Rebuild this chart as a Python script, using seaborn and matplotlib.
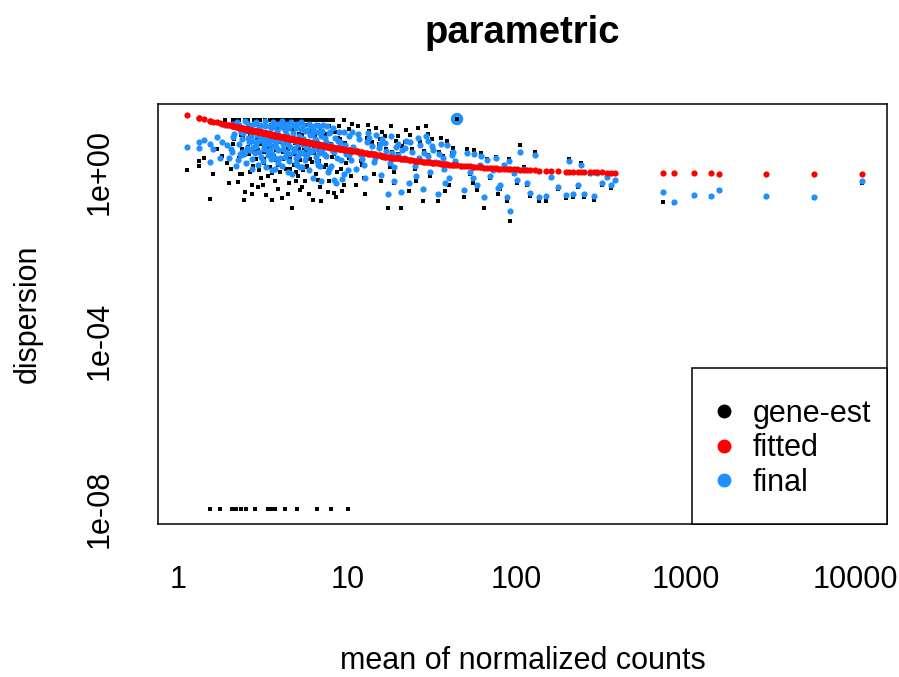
import matplotlib
matplotlib.use("Agg")
import matplotlib.pyplot as plt
from matplotlib.lines import Line2D
from matplotlib.patches import Rectangle
from matplotlib.ticker import NullLocator, FixedLocator, FixedFormatter
import numpy as np
import pandas as pd
import seaborn as sns

# ---------------- data ----------------
# one entry per gene; rows grouped by ranges of the mean of normalized counts
base_mean = [
    1.13, 1.33, 1.33, 1.55, 1.55,
    1.82, 1.77, 1.9, 2.0, 2.08, 2.1, 2.15, 2.2, 2.05, 2.25, 2.22,
    2.3, 2.36, 2.4, 2.45, 2.5, 2.52, 2.55, 2.6, 2.65, 2.7, 2.75, 2.8, 2.85, 2.9, 2.95, 3.0, 2.35, 2.62, 2.78, 2.4, 2.98, 2.48, 2.68, 2.88, 2.32, 2.72, 2.58,
    3.05, 3.1, 3.15, 3.2, 3.25, 3.3, 3.35, 3.4, 3.45, 3.5, 3.54, 3.6, 3.65, 3.7, 3.74, 3.8, 3.85, 3.9, 3.95, 3.2, 3.55, 3.75, 3.1, 3.08, 3.28, 3.48, 3.62, 3.88, 3.18, 3.58, 3.98, 3.38,
    4.05, 4.1, 4.15, 4.2, 4.28, 4.35, 4.4, 4.5, 4.55, 4.6, 4.7, 4.75, 4.85, 4.9, 5.0, 5.04, 5.1, 5.2, 5.25, 4.3, 4.65, 5.15, 4.12, 4.38, 4.62, 4.82, 5.07, 4.45, 4.95, 4.25,
    5.35, 5.45, 5.55, 5.65, 5.75, 5.85, 5.95, 6.05, 6.15, 6.25, 6.35, 6.5, 6.6, 6.7, 6.8, 6.9, 5.6, 6.4, 5.3, 5.5, 5.9, 6.1, 6.55, 6.85, 5.4, 5.8, 6.3, 6.75, 5.7, 6.45,
    7.1, 7.3, 7.5, 7.7, 7.9, 8.0, 8.1, 8.3, 8.5, 8.7, 8.9, 9.1, 9.3, 9.5, 9.8, 10.1, 10.3, 10.5, 7.4, 9.0, 7.2, 7.6, 8.2, 7.0, 7.8, 8.6, 9.6, 7.05,
    10.8, 11.2, 11.6, 12.0, 12.5, 13.0, 13.3, 13.8, 14.3, 14.8, 15.3, 15.8, 16.3, 16.8, 17.3, 17.8, 18.3, 18.8, 19.4, 11.8, 12.8, 14.0, 16.0, 19.0,
    20, 20.8, 21.5, 22.3, 23.0, 24, 25, 26, 27, 28, 29, 30, 31, 32, 33, 34.5, 36, 37.5, 39, 40, 41.5, 43, 44.5, 22, 25.5, 30, 35, 38,
    47, 49, 51, 53, 56, 58, 61, 64, 67, 70, 73, 76, 80, 84, 88, 92, 96, 101, 104, 55, 62, 78, 90,
    110, 115, 120, 128, 135, 150, 160, 175, 195, 205, 215, 230, 240, 250, 270, 285, 300, 320, 340, 360, 380,
    733, 850, 1117, 1406, 1568, 2970, 5710, 10965,
    2.12, 2.28, 2.42, 2.56, 2.66, 2.82, 2.92, 3.02, 3.12, 3.22, 3.32, 3.42, 3.52, 3.68, 3.78, 3.92,
    4.02, 4.18, 4.32, 4.48, 4.58, 4.72, 4.88, 4.98, 5.12, 5.28, 5.42, 5.58, 5.72, 5.88, 6.02, 6.2,
    6.38, 6.6, 6.8, 7.0, 7.25, 7.5, 7.75, 8.0, 8.4, 8.8, 9.2, 9.7, 10.2, 10.6, 11.4, 12.2,
    13.5, 14.6, 15.6, 17.0, 18.0, 19.8, 21.0, 23.5, 26.5, 28.5, 31.5, 36.5, 42, 1.42, 1.62, 1.7, 1.95,
]

disp_gene_est = [
    1.1, 1.8, 1.4, 0.23, 1e-8,
    2.4, 1e-8, 17, 0.55, 1e-8, 17, 6.0, 1e-8, 1.2, 0.58, 17,
    17, 1e-8, 3.5, 0.22, 0.33, 1e-8, 9.0, 17, 1.0, 5.0, 0.5, 17, 1e-8, 2.0, 0.45, 12, 7.5, 2.6, 1.4, 0.9, 3.3, 17, 13, 17, 0.9, 0.3, 4.0,
    17, 0.7, 5.5, 1.6, 17, 0.28, 8.0, 1e-8, 2.6, 17, 1e-8, 0.95, 4.2, 17, 1e-8, 1.9, 11, 0.4, 6.0, 2.9, 13, 0.6, 4.5, 9.0, 17, 1.3, 17, 17, 0.5, 0.22, 1.0, 3.8,
    17, 0.24, 3.0, 17, 1e-8, 1.2, 7.0, 0.55, 17, 2.2, 0.14, 10, 1.5, 4.8, 17, 1e-8, 0.8, 3.5, 0.37, 14, 5.5, 8.0, 17, 17, 17, 17, 17, 0.3, 0.6, 4.5,
    17, 1.1, 6.0, 0.6, 17, 2.5, 0.3, 9.0, 1.7, 17, 4.0, 0.9, 1e-8, 13, 2.9, 0.45, 13, 17, 17, 17, 17, 17, 17, 17, 0.45, 1.4, 0.22, 0.65, 3.2, 7.0,
    17, 1.3, 5.5, 0.33, 17, 1e-8, 2.3, 0.32, 9.0, 1.0, 12, 3.5, 0.35, 17, 1.6, 1e-8, 10.5, 0.8, 8.0, 6.0, 17, 17, 17, 0.2, 0.6, 0.25, 0.5, 3.0,
    4.0, 0.5, 12, 1.8, 0.7, 6.5, 13, 2.5, 0.9, 11, 4.5, 0.6, 2.1, 7.0, 0.14, 1.3, 3.0, 0.55, 5.5, 8.0, 0.3, 5.0, 9.0, 1.0,
    7.0, 0.14, 2.0, 10, 0.35, 3.5, 1.2, 11, 5.0, 0.2, 12, 2.5, 0.8, 4.0, 1.6, 0.2, 6.5, 1.1, 5.5, 0.5, 2.8, 1.8, 18, 5.0, 0.6, 8.0, 3.0, 0.35,
    1.3, 0.26, 3.5, 0.9, 3.3, 0.37, 1.5, 0.14, 2.0, 0.7, 1.1, 2.3, 0.4, 1.5, 0.2, 0.07, 0.9, 0.55, 4.3, 0.55, 2.8, 0.3, 2.0,
    1.3, 0.5, 0.27, 3.0, 0.2, 0.2, 0.7, 0.4, 0.24, 2.0, 0.26, 0.45, 1.6, 0.25, 0.9, 0.22, 0.95, 0.5, 0.7, 0.42, 0.6,
    0.19, 0.18, 0.27, 0.25, 0.37, 0.26, 0.24, 0.56,
    4.5, 2.2, 6.5, 1.6, 8.0, 3.0, 5.8, 1.1, 7.0, 2.0, 4.8, 0.8, 6.5, 2.4, 3.4, 1.5,
    5.0, 2.0, 9.0, 3.6, 1.2, 6.2, 2.6, 1.0, 4.2, 1.9, 7.5, 3.8, 1.3, 5.0, 2.0, 11,
    2.8, 5.5, 1.8, 9.5, 3.8, 1.5, 12, 4.5, 2.6, 6.5, 1.2, 4.8, 2.2, 14, 3.2, 1.5,
    9.5, 2.0, 6.0, 3.6, 12, 2.6, 4.2, 7.5, 2.2, 3.2, 6.0, 2.4, 3.8, 2.2, 0.9, 3.5, 1.6,
]

disp_final = [
    4.0, 5.0, 3.8, 4.6, 1.7,
    5.0, 2.2, 13, 2.2, 3.0, 14, 8.0, 1.4, 3.5, 1.9, 15,
    13, 2.5, 6.0, 2.6, 3.0, 1.6, 10, 14, 3.3, 7.0, 2.0, 13.5, 2.8, 4.2, 1.5, 11, 9.0, 5.2, 3.9, 2.9, 5.5, 16, 12, 15, 2.6, 1.2, 6.5,
    13, 2.3, 6.8, 3.6, 12.5, 1.3, 8.5, 3.1, 4.5, 12, 2.0, 2.7, 5.8, 12, 1.2, 3.9, 9.5, 1.6, 6.5, 4.8, 11, 2.2, 6.2, 9.0, 16, 3.3, 15, 14, 1.8, 1.1, 2.2, 5.5,
    11.5, 1.4, 4.6, 12, 2.3, 3.0, 7.0, 1.8, 11, 3.9, 0.9, 8.5, 3.2, 5.5, 11, 1.5, 2.4, 4.6, 1.3, 10, 6.0, 7.2, 16, 14, 15, 13, 14, 1.0, 1.6, 5.4,
    10.5, 2.8, 5.8, 1.9, 10, 3.8, 1.1, 7.5, 3.2, 10, 4.5, 2.3, 1.8, 9.0, 3.8, 1.4, 9.5, 9.5, 15, 13, 14, 12, 13, 12, 1.3, 2.6, 0.7, 1.5, 4.0, 6.0,
    9.5, 2.7, 5.0, 1.0, 9.0, 1.4, 3.3, 0.65, 6.5, 2.2, 9.0, 3.9, 0.68, 9.0, 2.6, 1.1, 7.0, 1.9, 6.5, 5.2, 13, 12, 11, 0.6, 1.2, 0.55, 0.9, 3.6,
    4.0, 1.2, 8.0, 2.5, 1.5, 5.0, 8.5, 2.8, 1.7, 7.5, 3.8, 0.85, 2.3, 4.8, 0.3, 1.6, 2.8, 0.62, 4.0, 6.0, 0.7, 4.2, 6.0, 1.3,
    4.5, 0.33, 2.1, 5.5, 0.55, 3.0, 1.4, 6.5, 4.3, 0.4, 7.0, 2.4, 1.0, 3.3, 1.7, 0.3, 4.5, 1.2, 4.3, 0.7, 2.5, 1.8, 18, 3.8, 0.8, 5.5, 2.7, 0.55,
    1.35, 0.37, 2.8, 1.0, 2.7, 0.48, 1.5, 0.25, 1.9, 0.8, 1.1, 2.1, 0.5, 1.45, 0.26, 0.12, 0.95, 0.65, 3.0, 0.7, 2.4, 0.42, 1.8,
    1.2, 0.55, 0.32, 2.5, 0.25, 0.27, 0.75, 0.45, 0.29, 1.8, 0.3, 0.5, 1.5, 0.3, 0.95, 0.27, 0.95, 0.55, 0.75, 0.5, 0.65,
    0.33, 0.19, 0.28, 0.27, 0.38, 0.27, 0.25, 0.6,
    6.8, 4.6, 8.2, 3.8, 9.2, 5.4, 7.4, 3.0, 7.8, 4.0, 6.0, 2.5, 7.0, 4.2, 5.0, 3.4,
    5.8, 3.6, 8.0, 4.6, 2.6, 6.0, 3.7, 2.2, 4.8, 3.0, 6.4, 4.4, 2.4, 5.0, 3.0, 8.0,
    3.6, 5.2, 2.8, 7.0, 4.0, 2.4, 8.5, 4.4, 3.0, 5.5, 1.9, 4.3, 2.5, 9.0, 3.2, 2.0,
    6.5, 2.2, 4.5, 3.2, 7.0, 2.5, 3.4, 5.0, 2.1, 2.8, 4.2, 2.2, 3.0, 5.6, 3.6, 6.8, 4.4,
]

disp_fitted = [
    22, 19, 19, 16.4, 16.4,
    14, 14.5, 13.6, 12.9, 12.6, 12.5, 12.2, 11.8, 12.8, 11.6, 11.7,
    11.3, 11.1, 10.9, 10.7, 10.5, 10.4, 10.3, 10.1, 10, 9.8, 9.6, 9.5, 9.4, 9.2, 9.1, 8.9, 11.2, 10.1, 9.6, 10.9, 9.0, 10.6, 9.9, 9.3, 11.2, 9.7, 10.2,
    8.8, 8.7, 8.6, 8.4, 8.3, 8.2, 8.1, 8.0, 7.9, 7.8, 7.7, 7.6, 7.5, 7.4, 7.3, 7.2, 7.2, 7.1, 7.0, 8.4, 7.7, 7.3, 8.7, 8.8, 8.2, 7.8, 7.5, 7.1, 8.5, 7.6, 7.0, 8.1,
    6.9, 6.8, 6.8, 6.7, 6.6, 6.5, 6.4, 6.3, 6.2, 6.1, 6.0, 6.0, 5.9, 5.8, 5.7, 5.7, 5.6, 5.5, 5.5, 6.5, 6.1, 5.6, 6.8, 6.5, 6.1, 5.9, 5.6, 6.4, 5.8, 6.6,
    5.4, 5.3, 5.2, 5.1, 5.1, 5.0, 4.9, 4.9, 4.8, 4.7, 4.7, 4.6, 4.5, 4.4, 4.4, 4.3, 5.2, 4.6, 5.4, 5.2, 5.0, 4.8, 4.5, 4.4, 5.3, 5.0, 4.7, 4.4, 5.1, 4.6,
    4.3, 4.2, 4.1, 4.0, 4.0, 3.9, 3.9, 3.8, 3.7, 3.7, 3.6, 3.6, 3.5, 3.5, 3.4, 3.3, 3.3, 3.2, 4.1, 3.6, 4.2, 4.0, 3.8, 4.3, 4.0, 3.7, 3.4, 4.3,
    3.2, 3.1, 3.0, 2.9, 2.8, 2.8, 2.7, 2.7, 2.6, 2.5, 2.5, 2.4, 2.4, 2.3, 2.3, 2.3, 2.2, 2.2, 2.1, 3.0, 2.8, 2.6, 2.4, 2.2,
    2.1, 2.05, 2.02, 1.98, 1.95, 1.9, 1.86, 1.83, 1.79, 1.76, 1.73, 1.70, 1.68, 1.66, 1.63, 1.60, 1.57, 1.55, 1.52, 1.50, 1.48, 1.46, 1.44, 1.99, 1.85, 1.70, 1.59, 1.54,
    1.41, 1.39, 1.37, 1.35, 1.33, 1.31, 1.29, 1.27, 1.25, 1.23, 1.22, 1.21, 1.2, 1.19, 1.18, 1.17, 1.16, 1.15, 1.14, 1.33, 1.28, 1.2, 1.17,
    1.12, 1.11, 1.1, 1.09, 1.08, 1.06, 1.05, 1.04, 1.02, 1.01, 1.01, 1.0, 1.0, 1.0, 0.99, 0.99, 0.98, 0.98, 0.97, 0.97, 0.97,
    0.93, 0.93, 0.92, 0.92, 0.91, 0.91, 0.90, 0.90,
    12.3, 11.4, 10.8, 10.2, 9.9, 9.4, 9.2, 8.9, 8.7, 8.4, 8.2, 8.0, 7.8, 7.4, 7.3, 7.1,
    6.9, 6.7, 6.5, 6.3, 6.2, 6.0, 5.8, 5.8, 5.6, 5.4, 5.3, 5.2, 5.1, 5.0, 4.9, 4.8,
    4.6, 4.5, 4.4, 4.3, 4.2, 4.1, 4.0, 3.9, 3.8, 3.7, 3.6, 3.4, 3.3, 3.2, 3.1, 2.9,
    2.7, 2.6, 2.5, 2.3, 2.2, 2.1, 2.04, 1.92, 1.8, 1.75, 1.67, 1.56, 1.47, 17.6, 15.7, 15.0, 13.3,
]

x_ticks = [1, 10, 100, 1000, 10000]
x_tick_labels = ["1", "10", "100", "1000", "10000"]
y_ticks = [1e0, 1e-2, 1e-4, 1e-6, 1e-8]
y_tick_labels = ["1e+00", "", "1e-04", "", "1e-08"]
legend_labels = ["gene-est", "fitted", "final"]
colors = {"gene-est": "black", "fitted": "#FF0000", "final": "#1E90FF"}

assert len(base_mean) == len(disp_gene_est) == len(disp_final) == len(disp_fitted)

df = pd.DataFrame({
    "base_mean": base_mean,
    "gene_est": disp_gene_est,
    "final": disp_final,
    "fitted": disp_fitted,
})
outl = df[(df["final"] == df["gene_est"]) & (df["gene_est"] > 5 * df["fitted"])]

# ---------------- style ----------------
sns.set_style("white")
plt.rcParams["font.family"] = ["Liberation Sans", "DejaVu Sans"]
plt.rcParams["axes.edgecolor"] = "black"
plt.rcParams["text.color"] = "black"
plt.rcParams["axes.labelcolor"] = "black"
plt.rcParams["xtick.color"] = "black"
plt.rcParams["ytick.color"] = "black"

W, H = 899, 677
fig = plt.figure(figsize=(W / 100, H / 100), dpi=100)
L, R, T, B = 158, 887, 104, 524
ax = fig.add_axes([L / W, 1 - B / H, (R - L) / W, (B - T) / H])
ax.set_xscale("log")
ax.set_yscale("log")

sns.scatterplot(data=df, x="base_mean", y="gene_est", color=colors["gene-est"],
                marker="s", s=9, linewidth=0, ax=ax, zorder=2, legend=False)
sns.scatterplot(data=df, x="base_mean", y="final", color=colors["final"],
                marker="o", s=20, linewidth=0, ax=ax, zorder=3, legend=False)
sns.scatterplot(data=df, x="base_mean", y="fitted", color=colors["fitted"],
                marker="o", s=20, linewidth=0, ax=ax, zorder=4, legend=False)
# dispersion outliers: ring around the gene-wise estimate
sns.scatterplot(data=outl, x="base_mean", y="gene_est", marker="o", s=40,
                facecolors="none", edgecolor=colors["final"], linewidth=2.6,
                ax=ax, zorder=5, legend=False)
sns.scatterplot(data=outl, x="base_mean", y="gene_est", color="black",
                marker="s", s=9, linewidth=0, ax=ax, zorder=6, legend=False)

ax.set_xlim(0.762, 15400)
ax.set_ylim(4.4e-9, 41)

ax.xaxis.set_major_locator(FixedLocator(x_ticks))
ax.xaxis.set_major_formatter(FixedFormatter(x_tick_labels))
ax.yaxis.set_major_locator(FixedLocator(y_ticks))
ax.yaxis.set_major_formatter(FixedFormatter(y_tick_labels))
ax.xaxis.set_minor_locator(NullLocator())
ax.yaxis.set_minor_locator(NullLocator())

ax.tick_params(axis="both", which="major", length=12.2, width=1.1,
               labelsize=22, direction="out", color="black")
ax.tick_params(axis="x", pad=17)
ax.tick_params(axis="y", pad=19)
for lab in ax.get_yticklabels():
    lab.set_rotation(90)
    lab.set_verticalalignment("center")

for sp in ax.spines.values():
    sp.set_visible(True)
    sp.set_color("black")
    sp.set_linewidth(1.1)

ax.set_xlabel("mean of normalized counts", fontsize=22)
ax.xaxis.set_label_coords(0.5, -0.290)
ax.set_ylabel("dispersion", fontsize=22)
ax.yaxis.set_label_coords(-0.158, 0.5)
ax.set_title("parametric", fontsize=27.5, fontweight="bold", y=1.145, pad=0)

# legend box (bottom-right, as in R)
ax.add_patch(Rectangle((0.7325, 0.0), 0.2675, 0.371, transform=ax.transAxes,
                       facecolor="white", edgecolor="black", linewidth=1.1,
                       zorder=7, clip_on=False))
handles = [Line2D([], [], marker="o", linestyle="", color=colors[k],
                  markersize=9) for k in legend_labels]
leg = ax.legend(handles, legend_labels, loc="center",
                bbox_to_anchor=(0.867, 0.18), frameon=False, fontsize=22,
                borderpad=0, handlelength=1.0, handletextpad=0.45,
                labelspacing=0.15)
leg.set_zorder(8)

fig.savefig("out.png", dpi=100)
